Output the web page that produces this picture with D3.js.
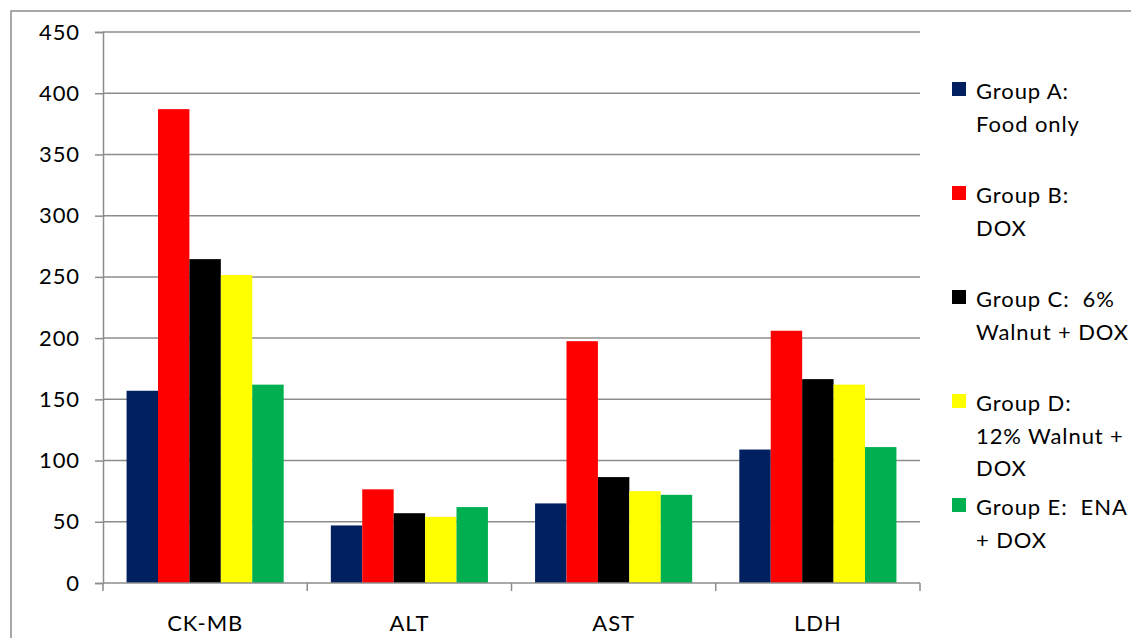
<!DOCTYPE html>
<html><head><meta charset="utf-8">
<script src="https://cdn.jsdelivr.net/npm/d3@7"></script>
<style>body{margin:0;background:#fff}svg{display:block}text{font-family:Lato,"Liberation Sans",sans-serif;fill:#000;letter-spacing:0.9px}</style>
</head><body>
<script>
const categories = ["CK-MB", "ALT", "AST", "LDH"];
const seriesNames = ["Group A", "Group B", "Group C", "Group D", "Group E"];
const legendLabels = [["Group A:", "Food only"], ["Group B:", "DOX"], ["Group C:  6%", "Walnut + DOX"], ["Group D:", "12% Walnut +", "DOX"], ["Group E:  ENA", "+ DOX"]];
const groupA = [157, 47, 65, 109];
const groupB = [387, 76.5, 197.5, 206];
const groupC = [264.5, 57, 86.5, 166.5];
const groupD = [251.5, 54, 75, 162];
const groupE = [162, 62, 72, 111];
const colors = ["#002060", "#FF0000", "#000000", "#FFFF00", "#00B050"];
const yTicks = [0, 50, 100, 150, 200, 250, 300, 350, 400, 450];

(function () {
const values = [groupA, groupB, groupC, groupD, groupE];
const W = 1131, H = 638;
const svg = d3.select("body").append("svg").attr("width", W).attr("height", H);
const gridColor = "#8c8c8c";

svg.append("rect").attr("x", 11).attr("y", 11).attr("width", 1140).attr("height", 650)
  .attr("fill", "none").attr("stroke", gridColor).attr("stroke-width", 1.5);

const pLeft = 103, pRight = 920, pTop = 32, pBottom = 583;
const y = d3.scaleLinear().domain([0, 450]).range([pBottom, pTop]);
const x0 = d3.scaleBand().domain(categories).range([pLeft, pRight]).padding(0);
const x1 = d3.scaleBand().domain(seriesNames).range([0, x0.bandwidth()]).paddingInner(0).paddingOuter(0.75);

svg.append("g").selectAll("line").data(yTicks.filter(d => d > 0)).join("line")
  .attr("x1", pLeft).attr("x2", pRight).attr("y1", d => y(d)).attr("y2", d => y(d))
  .attr("stroke", gridColor).attr("stroke-width", 1.5);

const yAxis = svg.append("g").attr("transform", `translate(${pLeft},0)`)
  .call(d3.axisLeft(y).tickValues(yTicks).tickSize(8).tickPadding(15));
yAxis.select(".domain").attr("stroke", gridColor).attr("stroke-width", 1.5);
yAxis.selectAll(".tick line").attr("stroke", gridColor).attr("stroke-width", 1.5);
yAxis.selectAll(".tick text").style("font-family", "Lato, 'Liberation Sans', sans-serif").style("font-size", "22px").attr("fill", "#000");

const groups = svg.append("g").selectAll("g").data(categories).join("g")
  .attr("transform", c => `translate(${x0(c)},0)`);
groups.selectAll("rect").data((c, ci) => seriesNames.map((s, si) => ({s, si, v: values[si][ci]}))).join("rect")
  .attr("x", d => x1(d.s)).attr("width", x1.bandwidth())
  .attr("y", d => y(d.v)).attr("height", d => y(0) - y(d.v))
  .attr("fill", d => colors[d.si]);

svg.append("line").attr("x1", pLeft).attr("x2", pRight).attr("y1", y(0)).attr("y2", y(0))
  .attr("stroke", gridColor).attr("stroke-width", 1.5);
const boundaries = categories.map(c => x0(c)).concat([x0.range()[1]]);
svg.append("g").selectAll("line").data(boundaries).join("line")
  .attr("x1", d => d).attr("x2", d => d).attr("y1", y(0)).attr("y2", y(0) + 8)
  .attr("stroke", gridColor).attr("stroke-width", 1.5);
svg.append("g").selectAll("text").data(categories).join("text")
  .attr("x", c => x0(c) + x0.bandwidth() / 2).attr("y", 631)
  .attr("text-anchor", "middle").style("font-size", "22px").text(c => c);

const leg = svg.append("g").selectAll("g").data(legendLabels).join("g")
  .attr("transform", (d, i) => `translate(952,${99 + i * 104})`);
leg.append("rect").attr("x", 0).attr("y", -17).attr("width", 14).attr("height", 14)
  .attr("fill", (d, i) => colors[i]);
leg.selectAll("text").data(d => d).join("text")
  .attr("x", 24).attr("y", (d, j) => j * 32.6).style("font-size", "22px").style("white-space", "pre").text(d => d);
})();
</script>
</body></html>
